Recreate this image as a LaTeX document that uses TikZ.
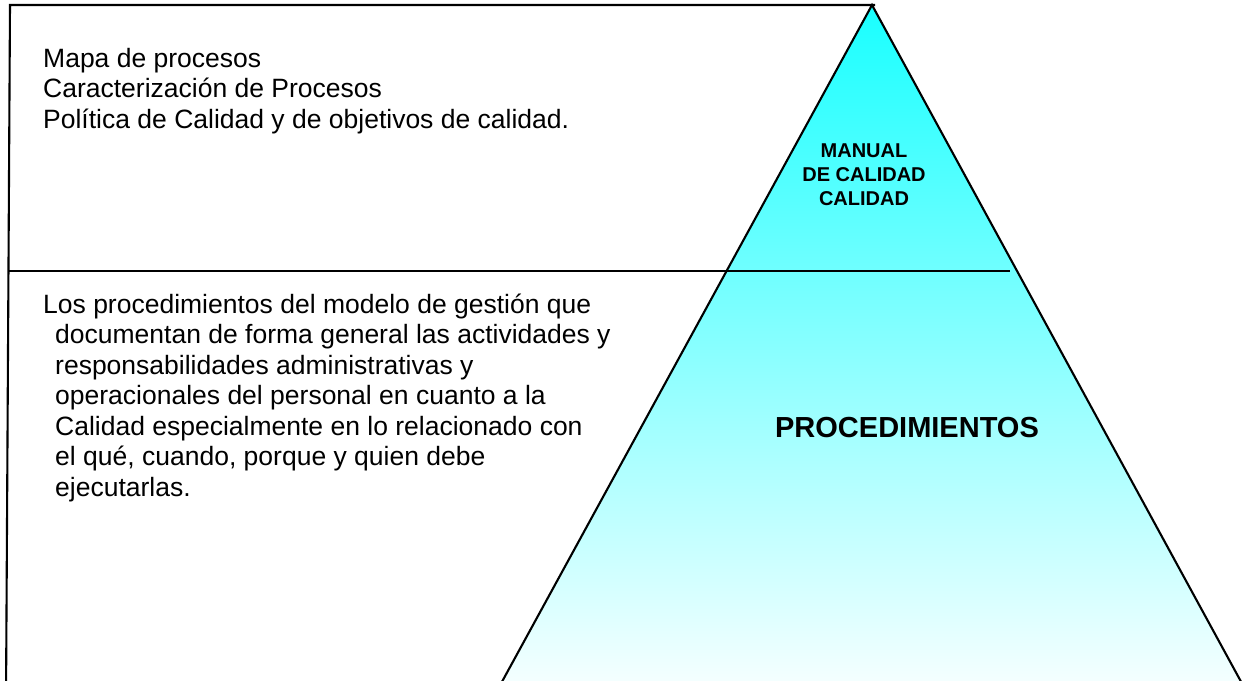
\documentclass[tikz,border=0pt]{standalone}
\usepackage{fontspec}
\setmainfont{Liberation Sans}
\definecolor{topc}{RGB}{25,255,255}
\definecolor{midc}{RGB}{178,255,255}
\definecolor{botc}{RGB}{250,255,255}
\begin{document}
\begin{tikzpicture}[x=1pt,y=-1pt,
  edge/.style={line width=2.1pt, black},
  body/.style={font=\fontsize{26.5}{30.5}\selectfont, anchor=base west, inner sep=0pt},
  bigtitle/.style={font=\bfseries\fontsize{29}{34}\selectfont, anchor=base, inner sep=0pt},
  smalltitle/.style={font=\bfseries\fontsize{20}{24}\selectfont, anchor=base, inner sep=0pt}]
\useasboundingbox (0,0) rectangle (1244,680);
% geometry
\coordinate (apex) at (872,5);
\coordinate (bl) at (492,700);
\coordinate (br) at (1251,700);
\coordinate (tl) at (10,5);
\coordinate (tr) at (875,5);
\coordinate (lb) at (6,700);
\coordinate (ml) at (8,271);
\coordinate (mr) at (1010,271);
% triangle
\shade[top color=topc, middle color=midc, bottom color=botc] (apex) -- (bl) -- (br) -- cycle;
\draw[edge] (bl) -- (apex) -- (br);
% frame
\draw[edge] (lb) -- (tl) -- (tr);
\draw[edge] (ml) -- (mr);
% upper text
\node[body] (u1) at (43,67) {Mapa de procesos};
\node[body] (u2) at (43,97.5) {Caracterización de Procesos};
\node[body] (u3) at (43,128) {Política de Calidad y de objetivos de calidad.};
% lower text
\node[body] (l1) at (43,313) {Los procedimientos del modelo de gestión que};
\node[body] (l2) at (55,343.5) {documentan de forma general las actividades y};
\node[body] (l3) at (55,374) {responsabilidades administrativas y};
\node[body] (l4) at (55,404.5) {operacionales del personal en cuanto a la};
\node[body] (l5) at (55,435) {Calidad especialmente en lo relacionado con};
\node[body] (l6) at (55,465.5) {el qué, cuando, porque y quien debe};
\node[body] (l7) at (55,496) {ejecutarlas.};
% titles
\node[smalltitle] (m1) at (864,157) {MANUAL};
\node[smalltitle] (m2) at (864,181) {DE CALIDAD};
\node[smalltitle] (m3) at (864,205) {CALIDAD};
\node[bigtitle] (p) at (907,437) {PROCEDIMIENTOS};
\end{tikzpicture}
\end{document}
